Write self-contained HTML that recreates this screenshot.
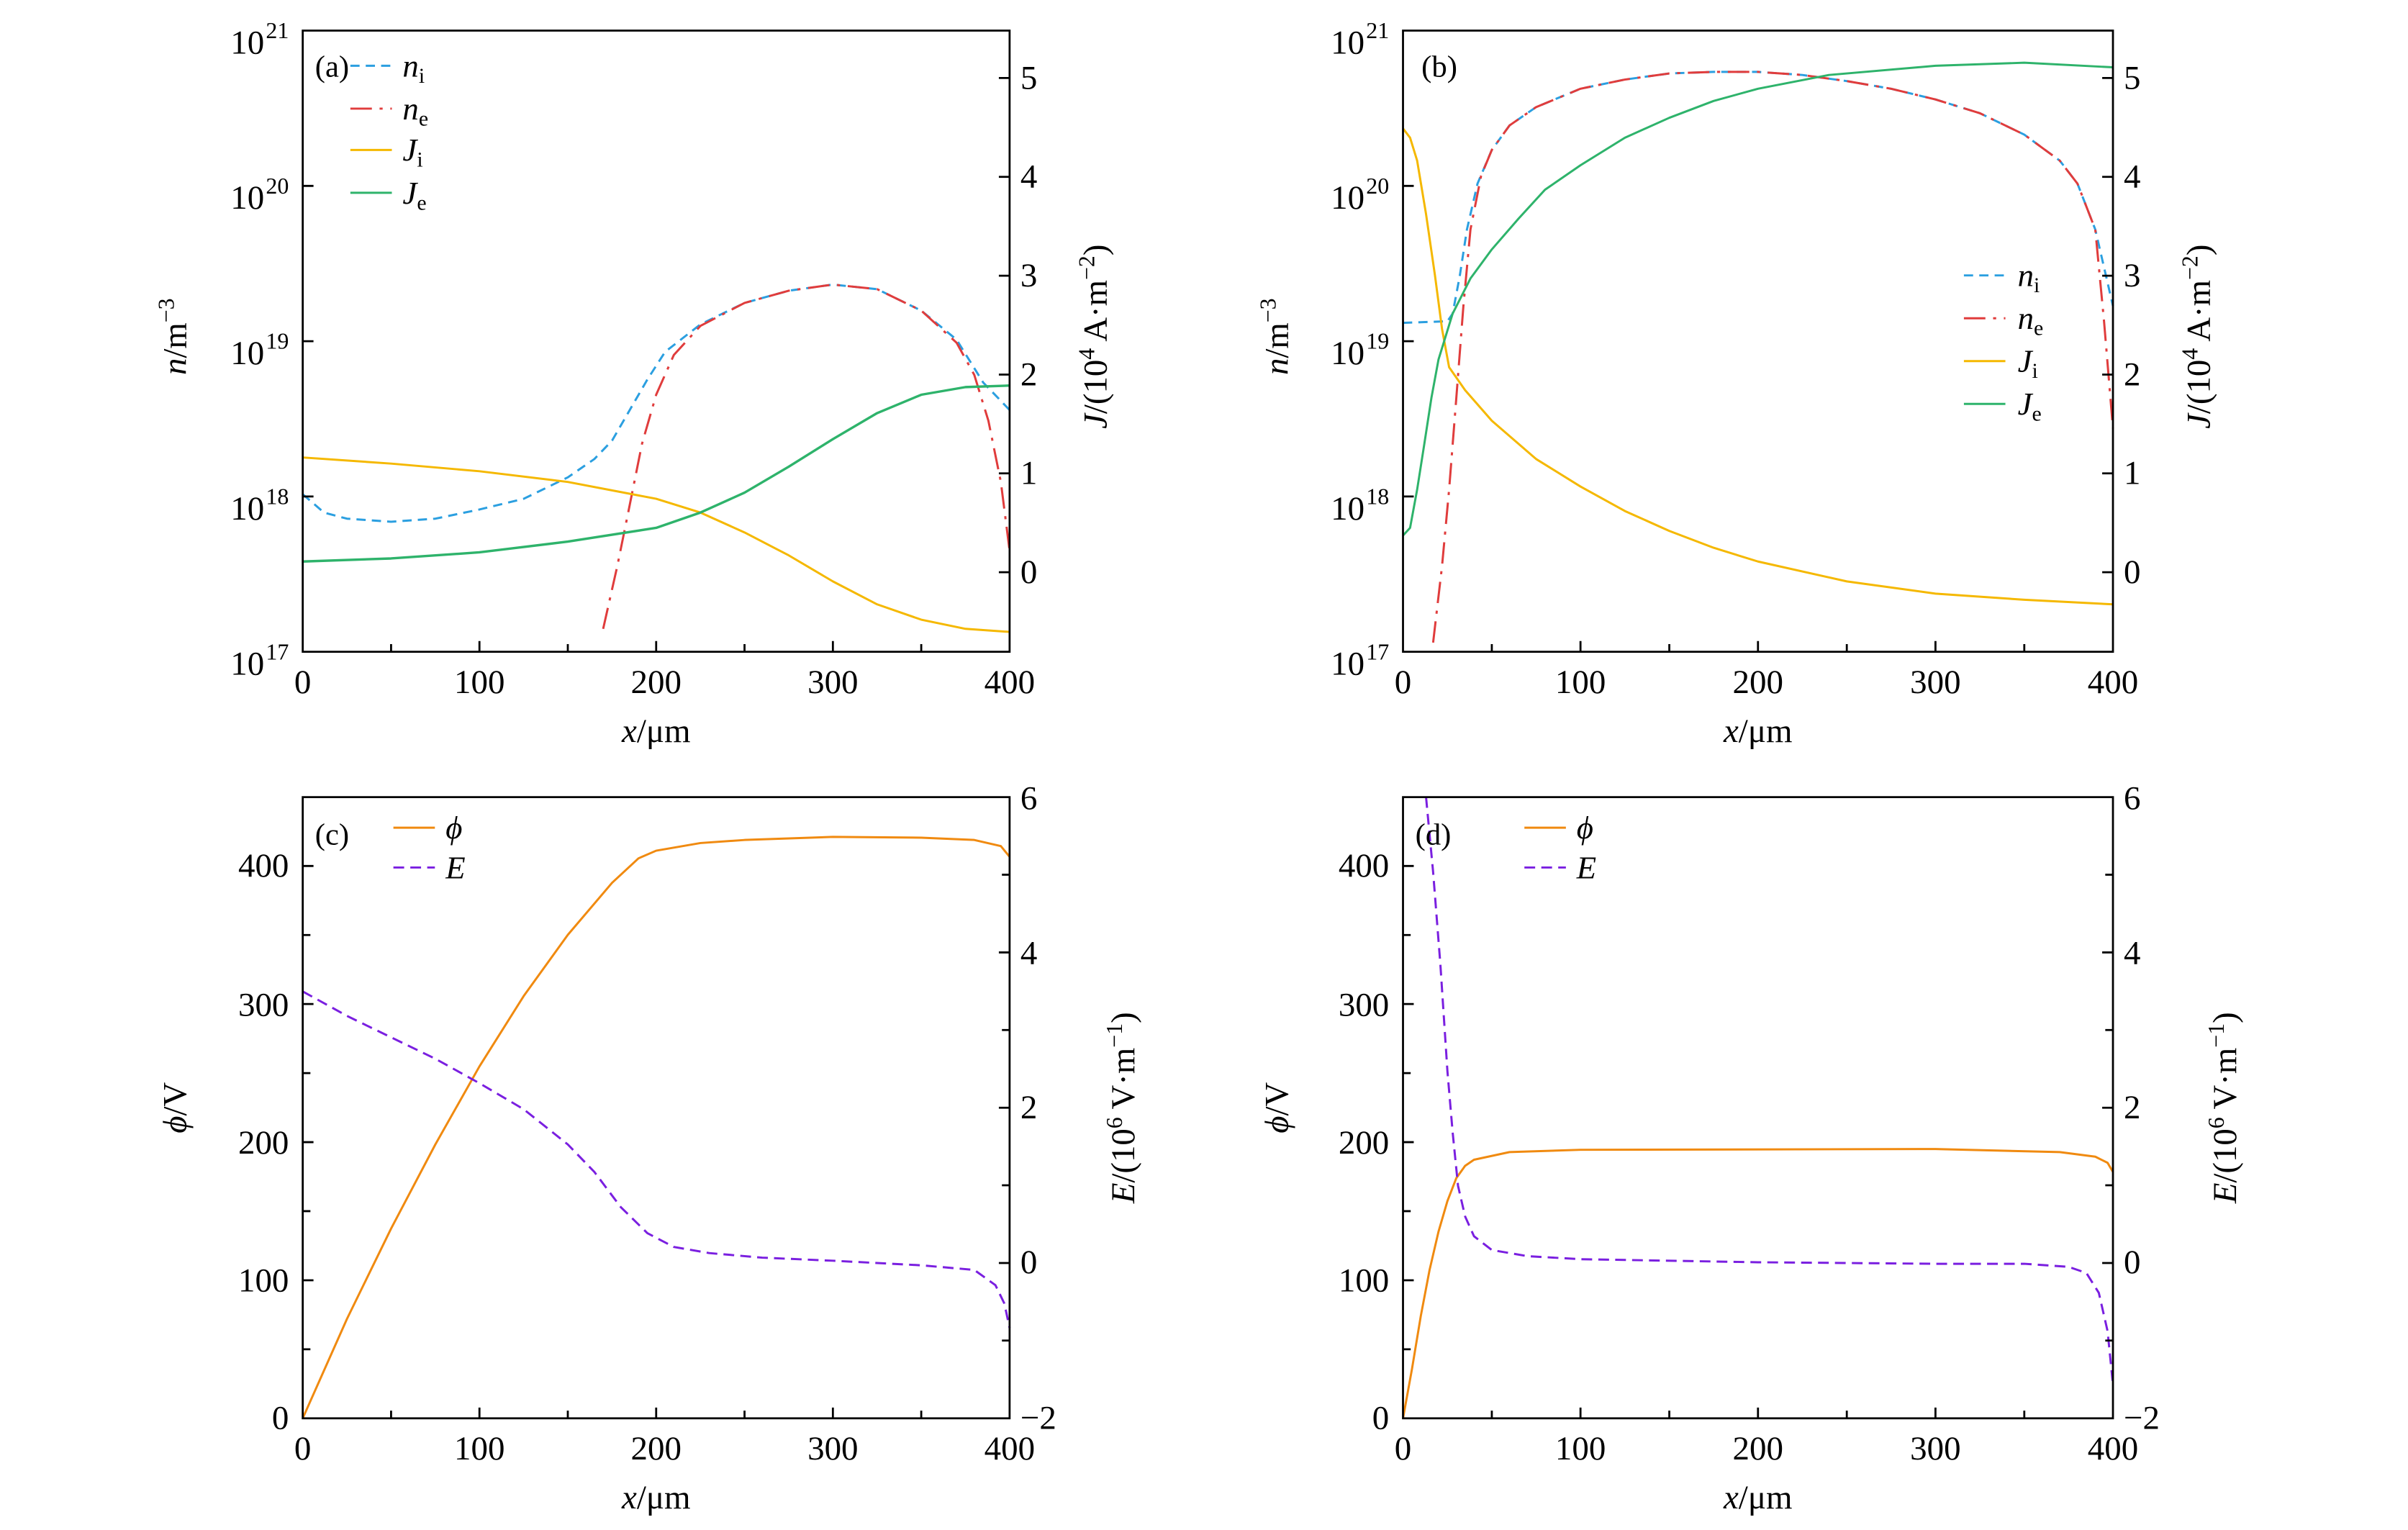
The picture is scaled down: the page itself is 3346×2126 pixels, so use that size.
<!DOCTYPE html>
<html><head><meta charset="utf-8"><style>
html,body{margin:0;padding:0;background:#fff}
svg{display:block}
text{font-family:"Liberation Serif","DejaVu Serif",serif;fill:#000}
</style></head><body>
<svg width="3346" height="2126" viewBox="0 0 1567 1000" preserveAspectRatio="none" xmlns="http://www.w3.org/2000/svg">
<g fill="none" stroke-linejoin="round" stroke-linecap="butt">
<polyline stroke="#2b9fe0" stroke-width="1.4" stroke-dasharray="6,4" points="197,323 210.8,335 225.8,339 254.5,341 283.3,339 312,333 340.8,326 369.5,312 386.8,300 398.3,288 409.8,268 421.3,248 432.8,230 455.8,212 484.5,198 513.3,190 542,186 570.8,189 599.5,203 622.5,222 639.8,250 651.3,262 657,268"/>
<polyline stroke="#e03c3c" stroke-width="1.4" stroke-dasharray="14,5,2,5" points="392.5,411 401.7,370 409.8,330 417.8,290 427,258 438.5,232 455.8,213 484.5,198 513.3,190 542,186 570.8,189 599.5,203 622.5,224 634,245 643.2,275 651.3,315 657,360"/>
<polyline stroke="#f5b800" stroke-width="1.4" points="197,299 254.5,303 312,308 369.5,315 427,326 455.8,335 484.5,348 513.3,363 542,380 570.8,395 599.5,405 628.3,411 657,413"/>
<polyline stroke="#2eb36b" stroke-width="1.6" points="197,367 254.5,365 312,361 369.5,354 427,345 455.8,335 484.5,322 513.3,305 542,287 570.8,270 599.5,258 628.3,253 657,252"/>
<polyline stroke="#2b9fe0" stroke-width="1.4" stroke-dasharray="6,4" points="913,211 941.9,210 945.3,205 950,180 954.6,150 961.5,120 970.8,98 982.3,82 999.6,70 1028.5,58 1057.4,52 1086.3,48 1115.1,47 1144,47 1172.9,49 1201.8,53 1230.6,58 1259.5,65 1288.4,74 1317.3,88 1340.4,105 1351.9,120 1363.5,150 1375,200"/>
<polyline stroke="#e03c3c" stroke-width="1.4" stroke-dasharray="14,5,2,5" points="932.6,420 938.4,370 943,320 947.7,260 952.3,200 956.9,150 963.8,115 970.8,98 982.3,82 999.6,70 1028.5,58 1057.4,52 1086.3,48 1115.1,47 1144,47 1172.9,49 1201.8,53 1230.6,58 1259.5,65 1288.4,74 1317.3,88 1340.4,105 1351.9,120 1363.5,150 1369.2,210 1375,280"/>
<polyline stroke="#f5b800" stroke-width="1.4" points="913,84 917.6,90 922.2,105 928,140 933.8,180 938.4,215 943,240 953.4,255 970.8,275 999.6,300 1028.5,318 1057.4,334 1086.3,347 1115.1,358 1144,367 1201.8,380 1259.5,388 1317.3,392 1375,395"/>
<polyline stroke="#2eb36b" stroke-width="1.4" points="913,350 917.6,345 922.2,320 926.9,290 931.5,260 936.1,235 945.3,205 956.9,182 970.8,163 988.1,143 1005.4,124 1028.5,108 1057.4,90 1086.3,77 1115.1,66 1144,58 1190.2,49 1259.5,43 1317.3,41 1375,44"/>
<polyline stroke="#f08a10" stroke-width="1.4" points="197,927 225.8,862 254.5,803 283.3,748 312,697 340.8,651 369.5,611 398.3,577 415.5,561 427,556 455.8,551 484.5,549 542,547 599.5,547.5 634,549 651.3,553 657,560"/>
<polyline stroke="#7a1fe0" stroke-width="1.4" stroke-dasharray="7,4" points="197,648 225.8,664 254.5,678 283.3,692 312,708 340.8,725 369.5,748 386.8,766 404,789 421.3,806 438.5,815 461.5,819 496,822 542,824 599.5,827 634,830 647.8,840 653.6,852 657,868"/>
<polyline stroke="#f08a10" stroke-width="1.4" points="913,927 918.8,895 924.6,860 930.3,830 936.1,805 941.9,785 947.7,770 953.4,762 959.2,758 982.3,753 1028.5,751.5 1259.5,751 1340.4,753 1363.5,756 1371.5,760 1375,766"/>
<polyline stroke="#7a1fe0" stroke-width="1.4" stroke-dasharray="7,4" points="928,521 932.6,570 937.3,630 941.9,700 945.3,740 948.8,775 953.4,795 959.2,808 970.8,817 993.9,821 1028.5,823 1144,825 1259.5,826 1317.3,826 1346.1,828 1357.7,832 1365.8,845 1371.5,870 1375,905"/>
</g>
<g fill="none" stroke="#000" stroke-width="1.3">
<rect x="197" y="20" width="460" height="406"/>
<rect x="913" y="20" width="462" height="406"/>
<rect x="197" y="521" width="460" height="406"/>
<rect x="913" y="521" width="462" height="406"/>
<path d="M197,121.5h7M197,223h7M197,324.5h7 M254.5,426v-5M312,426v-7M369.5,426v-5M427,426v-7M484.5,426v-5M542,426v-7M599.5,426v-5 M657,51h-7M657,115.6h-7M657,180.2h-7M657,244.8h-7M657,309.4h-7M657,374h-7"/>
<path d="M913,121.5h7M913,223h7M913,324.5h7 M970.8,426v-5M1028.5,426v-7M1086.3,426v-5M1144,426v-7M1201.8,426v-5M1259.5,426v-7M1317.3,426v-5 M1375,51h-7M1375,115.6h-7M1375,180.2h-7M1375,244.8h-7M1375,309.4h-7M1375,374h-7"/>
<path d="M197,881.9h5M197,836.8h7M197,791.6h5M197,746.5h7M197,701.4h5M197,656.2h7M197,611.1h5M197,566h7 M254.5,927v-5M312,927v-7M369.5,927v-5M427,927v-7M484.5,927v-5M542,927v-7M599.5,927v-5 M657,876.2h-5M657,825.5h-7M657,774.7h-5M657,724h-7M657,673.2h-5M657,622.5h-7M657,571.7h-5"/>
<path d="M913,881.9h5M913,836.8h7M913,791.6h5M913,746.5h7M913,701.4h5M913,656.2h7M913,611.1h5M913,566h7 M970.8,927v-5M1028.5,927v-7M1086.3,927v-5M1144,927v-7M1201.8,927v-5M1259.5,927v-7M1317.3,927v-5 M1375,876.2h-5M1375,825.5h-7M1375,774.7h-5M1375,724h-7M1375,673.2h-5M1375,622.5h-7M1375,571.7h-5"/>
</g>
<g font-size="22" text-anchor="middle">
<text x="197" y="453">0</text><text x="312" y="453">100</text><text x="427" y="453">200</text><text x="542" y="453">300</text><text x="657" y="453">400</text>
<text x="913" y="453">0</text><text x="1028.5" y="453">100</text><text x="1144" y="453">200</text><text x="1259.5" y="453">300</text><text x="1375" y="453">400</text>
<text x="197" y="954">0</text><text x="312" y="954">100</text><text x="427" y="954">200</text><text x="542" y="954">300</text><text x="657" y="954">400</text>
<text x="913" y="954">0</text><text x="1028.5" y="954">100</text><text x="1144" y="954">200</text><text x="1259.5" y="954">300</text><text x="1375" y="954">400</text>
</g>
<g font-size="22" text-anchor="end">
<text x="172" y="35">10</text><text x="172" y="136.5">10</text><text x="172" y="238">10</text><text x="172" y="339.5">10</text><text x="172" y="441">10</text>
<text x="888" y="35">10</text><text x="888" y="136.5">10</text><text x="888" y="238">10</text><text x="888" y="339.5">10</text><text x="888" y="441">10</text>
<text x="188" y="934">0</text><text x="188" y="844">100</text><text x="188" y="754">200</text><text x="188" y="664">300</text><text x="188" y="573">400</text>
<text x="904" y="934">0</text><text x="904" y="844">100</text><text x="904" y="754">200</text><text x="904" y="664">300</text><text x="904" y="573">400</text>
</g>
<g font-size="15">
<text x="173" y="25">21</text><text x="173" y="126.5">20</text><text x="173" y="228">19</text><text x="173" y="329.5">18</text><text x="173" y="431">17</text>
<text x="889" y="25">21</text><text x="889" y="126.5">20</text><text x="889" y="228">19</text><text x="889" y="329.5">18</text><text x="889" y="431">17</text>
</g>
<g font-size="22">
<text x="664" y="58">5</text><text x="664" y="122.6">4</text><text x="664" y="187.2">3</text><text x="664" y="251.8">2</text><text x="664" y="316.4">1</text><text x="664" y="381">0</text>
<text x="1382" y="58">5</text><text x="1382" y="122.6">4</text><text x="1382" y="187.2">3</text><text x="1382" y="251.8">2</text><text x="1382" y="316.4">1</text><text x="1382" y="381">0</text>
<text x="664" y="529">6</text><text x="664" y="630">4</text><text x="664" y="731">2</text><text x="664" y="832">0</text><text x="664" y="934">−2</text>
<text x="1382" y="529">6</text><text x="1382" y="630">4</text><text x="1382" y="731">2</text><text x="1382" y="832">0</text><text x="1382" y="934">−2</text>
</g>
<g font-size="22" text-anchor="middle">
<text x="427" y="485"><tspan font-style="italic">x</tspan>/μm</text>
<text x="1144" y="485"><tspan font-style="italic">x</tspan>/μm</text>
<text x="427" y="986"><tspan font-style="italic">x</tspan>/μm</text>
<text x="1144" y="986"><tspan font-style="italic">x</tspan>/μm</text>
<text transform="translate(121,220) rotate(-90)"><tspan font-style="italic">n</tspan>/m<tspan font-size="15" dy="-8">−3</tspan></text>
<text transform="translate(838,220) rotate(-90)"><tspan font-style="italic">n</tspan>/m<tspan font-size="15" dy="-8">−3</tspan></text>
<text transform="translate(720,220) rotate(-90)"><tspan font-style="italic">J</tspan>/(10<tspan font-size="15" dy="-8">4</tspan><tspan dy="8"> A·m</tspan><tspan font-size="15" dy="-8">−2</tspan><tspan dy="8">)</tspan></text>
<text transform="translate(1438,220) rotate(-90)"><tspan font-style="italic">J</tspan>/(10<tspan font-size="15" dy="-8">4</tspan><tspan dy="8"> A·m</tspan><tspan font-size="15" dy="-8">−2</tspan><tspan dy="8">)</tspan></text>
<text transform="translate(121,724) rotate(-90)"><tspan font-style="italic">ϕ</tspan>/V</text>
<text transform="translate(838,724) rotate(-90)"><tspan font-style="italic">ϕ</tspan>/V</text>
<text transform="translate(738,724) rotate(-90)"><tspan font-style="italic">E</tspan>/(10<tspan font-size="15" dy="-8">6</tspan><tspan dy="8"> V·m</tspan><tspan font-size="15" dy="-8">−1</tspan><tspan dy="8">)</tspan></text>
<text transform="translate(1455,724) rotate(-90)"><tspan font-style="italic">E</tspan>/(10<tspan font-size="15" dy="-8">6</tspan><tspan dy="8"> V·m</tspan><tspan font-size="15" dy="-8">−1</tspan><tspan dy="8">)</tspan></text>
</g>
<g font-size="20">
<text x="205" y="50">(a)</text>
<text x="925" y="50">(b)</text>
<text x="205" y="552">(c)</text>
<text x="921" y="552">(d)</text>
</g>
<g fill="none" stroke-width="1.4">
<path d="M228,43h27" stroke="#2b9fe0" stroke-dasharray="6,4"/>
<path d="M228,71h27" stroke="#e03c3c" stroke-dasharray="14,5,2,5"/>
<path d="M228,98h27" stroke="#f5b800"/>
<path d="M228,126h27" stroke="#2eb36b"/>
<path d="M1278,180h27" stroke="#2b9fe0" stroke-dasharray="6,4"/>
<path d="M1278,208h27" stroke="#e03c3c" stroke-dasharray="14,5,2,5"/>
<path d="M1278,236h27" stroke="#f5b800"/>
<path d="M1278,264h27" stroke="#2eb36b"/>
<path d="M256,541h27" stroke="#f08a10"/>
<path d="M256,567h27" stroke="#7a1fe0" stroke-dasharray="7,4"/>
<path d="M992,541h27" stroke="#f08a10"/>
<path d="M992,567h27" stroke="#7a1fe0" stroke-dasharray="7,4"/>
</g>
<g font-size="21" font-style="italic">
<text x="262" y="50">n<tspan font-size="14" font-style="normal" dy="4">i</tspan></text>
<text x="262" y="78">n<tspan font-size="14" font-style="normal" dy="4">e</tspan></text>
<text x="262" y="105">J<tspan font-size="14" font-style="normal" dy="4">i</tspan></text>
<text x="262" y="133">J<tspan font-size="14" font-style="normal" dy="4">e</tspan></text>
<text x="1313" y="187">n<tspan font-size="14" font-style="normal" dy="4">i</tspan></text>
<text x="1313" y="215">n<tspan font-size="14" font-style="normal" dy="4">e</tspan></text>
<text x="1313" y="243">J<tspan font-size="14" font-style="normal" dy="4">i</tspan></text>
<text x="1313" y="271">J<tspan font-size="14" font-style="normal" dy="4">e</tspan></text>
<text x="290" y="548">ϕ</text>
<text x="290" y="574">E</text>
<text x="1026" y="548">ϕ</text>
<text x="1026" y="574">E</text>
</g>
</svg>
</body></html>
